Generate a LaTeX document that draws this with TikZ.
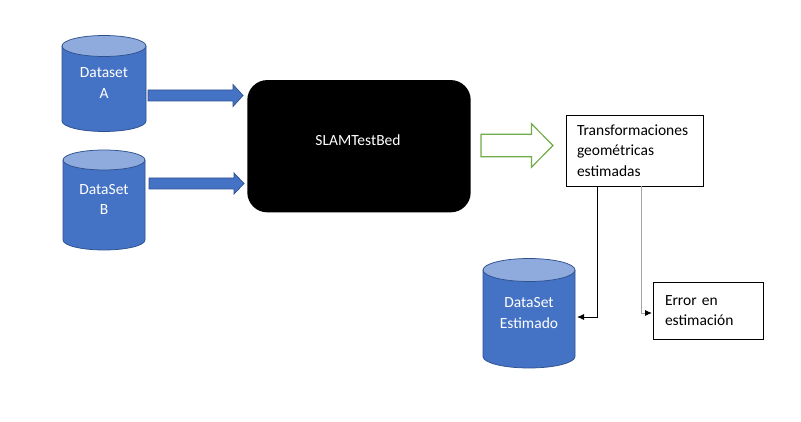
\documentclass[tikz,border=0pt]{standalone}
\usepackage{fontspec}
\setmainfont{Carlito}
\usetikzlibrary{arrows.meta}
\definecolor{cylbody}{HTML}{4472C4}
\definecolor{cyltop}{HTML}{8FAADC}
\definecolor{cylline}{HTML}{2F528F}
\definecolor{arrgreen}{HTML}{70AD47}
\definecolor{conngray}{HTML}{A5A5A5}
% name, cx, ytop-centre, ybottom-centre, rx, ry, text y, text
\newcommand\dbcyl[8]{%
  \fill[cylbody] (#2-#5,-#3) -- (#2-#5,-#4)
     arc[start angle=180,end angle=360,x radius=#5,y radius=#6] -- (#2+#5,-#3) -- cycle;
  \draw[cylline,line width=0.75pt] (#2-#5,-#3) -- (#2-#5,-#4)
     arc[start angle=180,end angle=360,x radius=#5,y radius=#6] -- (#2+#5,-#3);
  \draw[cylline,line width=0.75pt,fill=cyltop] (#2,-#3) ellipse[x radius=#5,y radius=#6];
  \node[inner sep=0pt,minimum width=2*#5,minimum height=#4-#3+2*#6] (#1) at (#2,-#3/2-#4/2) {};
  \node[cyltext] (#1-t) at (#2,-#7) {#8};
}
% style, x start, x tip, y centre, shaft half, head half, head length
\newcommand\blockarr[7]{%
  \draw[#1] (#2,-#4+#5) -- (#3-#7,-#4+#5) -- (#3-#7,-#4+#6) -- (#3,-#4)
     -- (#3-#7,-#4-#6) -- (#3-#7,-#4-#5) -- (#2,-#4-#5) -- cycle;
}
\begin{document}
\begin{tikzpicture}[x=1pt,y=1pt,
  txt/.style={font=\fontsize{15.5}{20.5}\selectfont},
  cyltext/.style={txt,text=white,align=center,inner sep=0pt},
  bluearr/.style={fill=cylbody,draw=cylline,line width=0.75pt},
  greenarr/.style={fill=white,draw=arrgreen,line width=1.2pt},
  plainbox/.style={draw,line width=0.8pt,txt,align=left,inner sep=0pt},
  conn/.style={line width=0.9pt,-{Latex[length=7pt,width=6pt]}},
  conng/.style={line width=0.9pt,draw=conngray,-{Latex[length=7pt,width=6pt,color=black]}}]
\useasboundingbox[fill=white] (0,0) rectangle (801,-422);

\dbcyl{dsA}{104}{46}{121}{42}{10.5}{83}{Dataset\\A}
\dbcyl{dsB}{104}{160}{240}{41}{10}{199.5}{DataSet\\B}
\dbcyl{est}{529}{270}{356.5}{46}{11.5}{313}{DataSet\\Estimado}

\node[fill=black,rounded corners=20pt,minimum width=223.4pt,minimum height=132.3pt,inner sep=0pt] (slam) at (359,-146.2) {};
\node[txt,text=white,inner sep=0pt] (slam-t) at (358,-140) {SLAMTestBed};

\blockarr{bluearr}{148}{243}{95.5}{5.5}{11}{10}
\blockarr{bluearr}{149}{244}{183.5}{5.5}{10.5}{10}
\blockarr{greenarr}{481}{553}{145.5}{11.3}{21.7}{21.5}

\node[plainbox,minimum width=137pt,minimum height=71pt,text width=115pt] (trans) at (634.5,-150.5)
  {Transformaciones\\geométricas\\estimadas};
\node[plainbox,minimum width=110pt,minimum height=57pt,text width=86pt] (err) at (708,-310.5)
  {Error en\\estimación};

\coordinate (estin) at (577,-317);
\coordinate (errin) at (652,-313);
\draw[conn] ([xshift=-37pt]trans.south) |- (estin);
\draw[conng] ([xshift=6.5pt]trans.south) |- (errin);
\end{tikzpicture}
\end{document}
